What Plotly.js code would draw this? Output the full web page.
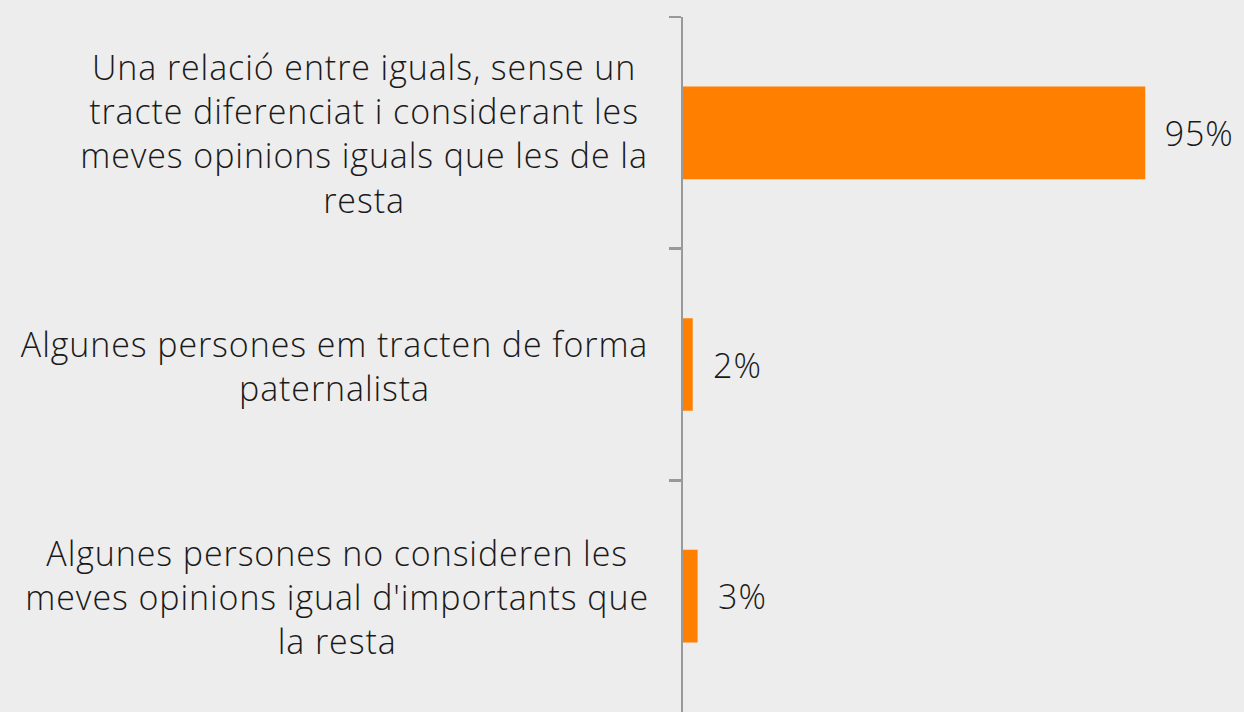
<!DOCTYPE html>
<html>
<head>
<meta charset="utf-8">
<script src="https://cdn.plot.ly/plotly-3.0.1.min.js"></script>
<style>
html,body{margin:0;padding:0;background:#ededed;}
#chart{width:1244px;height:712px;}
#chart text{letter-spacing:0.9px;}
</style>
</head>
<body>
<div id="chart"></div>
<script>
const categories = [
  "Una relació entre iguals, sense un<br>tracte diferenciat i considerant les<br>meves opinions iguals que les de la<br>resta",
  "Algunes persones em tracten de forma<br>paternalista",
  "Algunes persones no consideren les<br>meves opinions igual d'importants que<br>la resta"
];
const values = [95, 2, 3];
const valueLabels = ["95%", "2%", "3%"];

const FONT = {family: "'Open Sans', Roboto, sans-serif", size: 34, color: "#1a1a1a", weight: 300};

const trace = {
  type: "bar",
  orientation: "h",
  x: values,
  y: categories,
  marker: {color: "#ff7f00"},
  width: 0.4,
  hoverinfo: "none"
};

const annotations = [];
categories.forEach((c, i) => {
  annotations.push({
    xref: "paper", yref: "y", x: 0, y: c,
    text: c, showarrow: false, xanchor: "right", yanchor: "middle",
    align: "center", xshift: -49, yshift: -1, font: FONT
  });
  annotations.push({
    xref: "x", yref: "y", x: values[i], y: c,
    text: valueLabels[i], showarrow: false, xanchor: "left", yanchor: "middle",
    xshift: 19, font: FONT
  });
});

const layout = {
  width: 1244, height: 712,
  margin: {l: 683, r: 0, t: 17, b: 0},
  paper_bgcolor: "#ededed",
  plot_bgcolor: "#ededed",
  showlegend: false,
  xaxis: {range: [0, 115.3], visible: false, fixedrange: true},
  yaxis: {
    type: "category",
    autorange: "reversed",
    showticklabels: false,
    showgrid: false, zeroline: false,
    showline: true, linecolor: "#999999", linewidth: 2.5,
    ticks: "outside", tickson: "boundaries", ticklen: 12, tickwidth: 2.5, tickcolor: "#999999"
  },
  annotations: annotations,
  font: FONT
};

Plotly.newPlot("chart", [trace], layout, {displayModeBar: false, staticPlot: true});
</script>
</body>
</html>
